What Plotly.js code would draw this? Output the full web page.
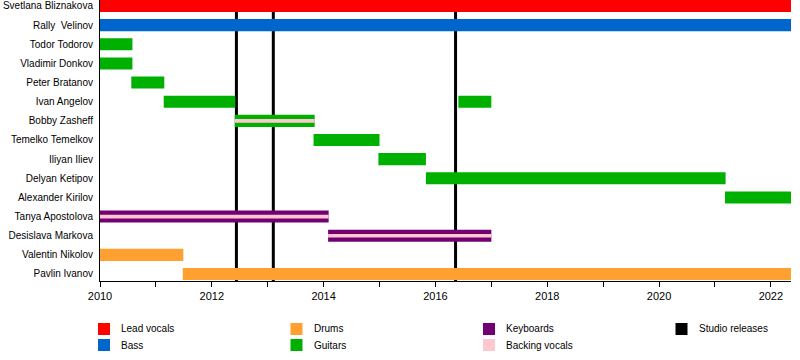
<!DOCTYPE html>
<html><head><meta charset="utf-8">
<script src="https://cdn.plot.ly/plotly-3.0.1.min.js"></script>
<style>html,body{margin:0;padding:0;background:#fff}#chart{width:800px;height:360px}</style>
</head><body><div id="chart"></div>
<script>
// ---- data ----
const members = ["Svetlana Bliznakova","Rally  Velinov","Todor Todorov","Vladimir Donkov","Peter Bratanov","Ivan Angelov","Bobby Zasheff","Temelko Temelkov","Iliyan Iliev","Delyan Ketipov","Alexander Kirilov","Tanya Apostolova","Desislava Markova","Valentin Nikolov","Pavlin Ivanov"];
const END = 2022.36;
const barMember = ["Svetlana Bliznakova","Rally  Velinov","Todor Todorov","Vladimir Donkov","Peter Bratanov","Ivan Angelov","Ivan Angelov","Bobby Zasheff","Temelko Temelkov","Iliyan Iliev","Delyan Ketipov","Alexander Kirilov","Tanya Apostolova","Desislava Markova","Valentin Nikolov","Pavlin Ivanov"];
const barStart = [2010,2010,2010,2010,2010.56,2011.14,2016.41,2012.41,2013.82,2014.98,2015.83,2021.18,2010,2014.08,2010,2011.48];
const barEnd   = [END,END,2010.58,2010.58,2011.15,2012.42,2017.0,2013.84,2015.0,2015.83,2021.19,END,2014.09,2017.0,2011.49,END];
const barRole  = ["Lead vocals","Bass","Guitars","Guitars","Guitars","Guitars","Guitars","Guitars","Guitars","Guitars","Guitars","Guitars","Keyboards","Keyboards","Drums","Drums"];
const backMember = ["Bobby Zasheff","Tanya Apostolova","Desislava Markova"];
const backStart  = [2012.41,2010,2014.08];
const backEnd    = [2013.84,2014.09,2017.0];
const releases = [2012.44,2013.10,2016.36];
const roles  = ["Lead vocals","Bass","Drums","Guitars","Keyboards","Backing vocals","Studio releases"];
const colors = ["#ff0000","#0066cc","#ffa030","#00b000","#730073","#ffc8d0","#000000"];
const legendOrder = ["Lead vocals","Drums","Keyboards","Studio releases","Bass","Guitars","Backing vocals"];

// ---- layout constants ----
const W=800,H=360,L=100,R=9,T=0,B=79;
const pw=W-L-R, ph=H-T-B;
const colorOf = r => colors[roles.indexOf(r)];

const traces=[];
roles.slice(0,5).forEach(role=>{
  const idx = barRole.map((r,i)=>r===role?i:-1).filter(i=>i>=0);
  if(!idx.length) return;
  traces.push({type:'bar',orientation:'h',
    y: idx.map(i=>barMember[i]), base: idx.map(i=>barStart[i]), x: idx.map(i=>barEnd[i]-barStart[i]),
    width: 0.63, marker:{color:colorOf(role),line:{width:0}}, showlegend:false, hoverinfo:'skip'});
});
traces.push({type:'bar',orientation:'h',
  y: backMember, base: backStart, x: backEnd.map((e,i)=>e-backStart[i]),
  width: 0.19, marker:{color:colorOf("Backing vocals"),line:{width:0}}, showlegend:false, hoverinfo:'skip'});

const shapes = releases.map(x=>({type:'line',xref:'x',yref:'paper',x0:x,x1:x,y0:0,y1:1,layer:'below',line:{color:'#000',width:3}}));
const annotations=[];
// custom legend
const colX=[98,290.5,483,675.5], rowY=[329,345];
legendOrder.forEach((lab,k)=>{
  const col=k<4?k:k-4, row=k<4?0:1;
  const px=colX[col], py=rowY[row];
  shapes.push({type:'rect',xref:'paper',yref:'paper',
    x0:(px-L)/pw, x1:(px+12-L)/pw, y0:(H-B-(py+6))/ph, y1:(H-B-(py-6))/ph,
    fillcolor:colorOf(lab), line:{width:0}});
  annotations.push({xref:'paper',yref:'paper',x:(px+21-L)/pw,y:(H-B-py)/ph,xanchor:'left',yanchor:'middle',
    text:lab,showarrow:false,font:{size:10,color:'#000',family:'Liberation Sans, Arial, sans-serif'}});
});

const layout={
  width:W,height:H,margin:{l:L,r:R,t:T,b:B},paper_bgcolor:'#fff',plot_bgcolor:'#fff',
  barmode:'overlay',showlegend:false,
  font:{family:'Liberation Sans, Arial, sans-serif',color:'#000'},
  xaxis:{range:[2010,END],tick0:2010,dtick:2,ticks:'outside',ticklen:5,tickcolor:'#000',
    showline:true,linecolor:'#000',linewidth:1,showgrid:false,zeroline:false,
    tickfont:{size:11,color:'#000'},tickformat:'d',
    minor:{dtick:1,ticks:'outside',ticklen:5,tickcolor:'#000',showgrid:false}},
  yaxis:{type:'category',categoryorder:'array',categoryarray:members,
    range:[14.366,-0.313],showline:true,linecolor:'#000',linewidth:1,showgrid:false,zeroline:false,
    ticks:'',ticklabelstandoff:4,tickfont:{size:10,color:'#000'}},
  shapes:shapes,annotations:annotations
};
Plotly.newPlot('chart',traces,layout,{staticPlot:true});
</script></body></html>
